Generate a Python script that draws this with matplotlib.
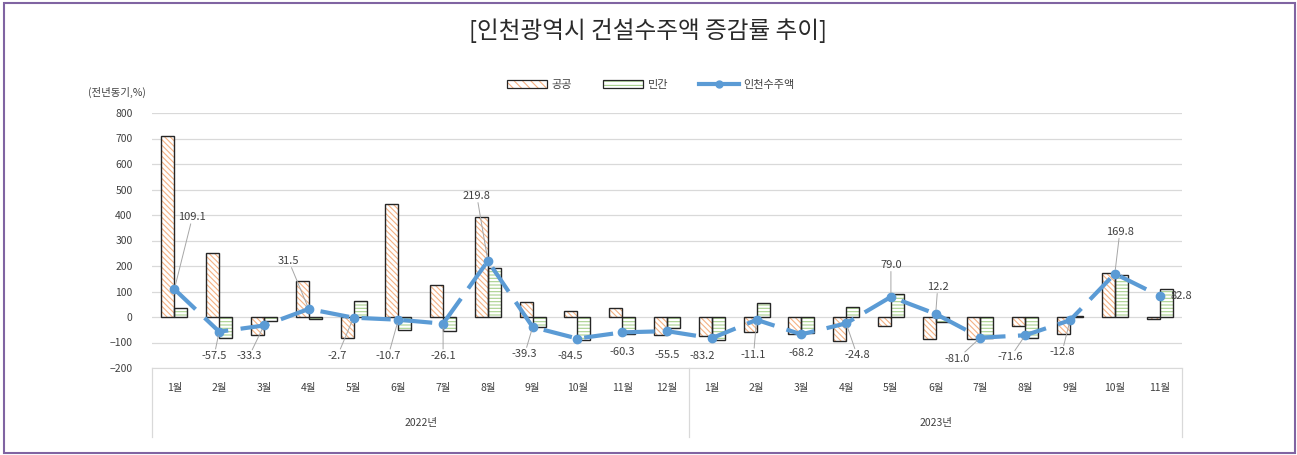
import matplotlib
matplotlib.use("Agg")
import matplotlib.pyplot as plt
from matplotlib.patches import Patch, Rectangle
from matplotlib.lines import Line2D
from matplotlib.legend_handler import HandlerTuple
import numpy as np

plt.rcParams['font.family'] = ['Noto Sans CJK KR', 'DejaVu Sans']
plt.rcParams['hatch.linewidth'] = 0.8

# ---- data ----
months = ["1월", "2월", "3월", "4월", "5월", "6월", "7월", "8월", "9월", "10월", "11월", "12월",
          "1월", "2월", "3월", "4월", "5월", "6월", "7월", "8월", "9월", "10월", "11월"]
years = ["2022년", "2023년"]
year_len = [12, 11]

public = [708, 252, -70, 143, -82, 443, 125, 392, 60, 22, 34, -72,
          -75, -58, -67, -94, -37, -86, -86, -34, -68, 171, -6]
private = [35, -83, -17, -9, 63, -50, -55, 191, -38, -90, -68, -44,
           -91, 55, -62, 40, 89, -18, -84, -82, 5, 166, 109]
total = [109.1, -57.5, -33.3, 31.5, -2.7, -10.7, -26.1, 219.8, -39.3, -84.5, -60.3, -55.5,
         -83.2, -11.1, -68.2, -24.8, 79.0, 12.2, -81.0, -71.6, -12.8, 169.8, 82.8]

# label offsets from the point, in pixels (dx, dy up-positive)
label_off = [(18, 72), (-5, -24), (-15, -31), (-20, 48), (-16, -38), (-10, -36), (0, -32),
             (-11, 65), (-8, -27), (-7, -17), (0, -20), (0, -24),
             (-10, -18), (-3, -35), (0, -19), (11, -32), (0, 32), (2, 27), (-23, -21),
             (-15, -22), (-8, -32), (5, 42), (22, 0)]

HATCH_PUB = "#F4B183"
HATCH_PRI = "#A9D18E"
LINE_C = "#5B9BD5"
EDGE = "#262626"

fig = plt.figure(figsize=(12.97, 4.55), dpi=100)
ax = fig.add_axes([152 / 1297, 1 - 368 / 455, (1182 - 152) / 1297, (368 - 113) / 455])

x = np.arange(len(months))
w = 0.29

# hatched fill, then dark outline on top
ax.bar(x - w / 2, public, w, color="white", edgecolor=HATCH_PUB, hatch="\\\\\\\\\\\\", lw=0, zorder=2)
ax.bar(x + w / 2, private, w, color="white", edgecolor=HATCH_PRI, hatch="-----", lw=0, zorder=2)
ax.bar(x - w / 2, public, w, color="none", edgecolor=EDGE, lw=1.0, zorder=3)
ax.bar(x + w / 2, private, w, color="none", edgecolor=EDGE, lw=1.0, zorder=3)

ax.plot(x, total, color=LINE_C, lw=3, linestyle=(0, (7, 3)), marker="o", ms=6,
        markerfacecolor=LINE_C, markeredgecolor=LINE_C, zorder=4)

for i, v in enumerate(total):
    dx, dy = label_off[i]
    dist = (dx ** 2 + dy ** 2) ** 0.5
    arrow = dict(arrowstyle="-", color="#A6A6A6", lw=0.7, shrinkA=0, shrinkB=3) if dist > 24 else None
    ax.annotate(f"{v:.1f}", xy=(i, v), xytext=(dx, dy), textcoords="offset pixels",
                ha="center", va="center", fontsize=8, color="#404040",
                bbox=dict(boxstyle="square,pad=0.15", fc="none", ec="none"),
                arrowprops=arrow, zorder=5)

ax.set_xlim(-0.5, len(months) - 0.5)
ax.set_ylim(-200, 800)
ax.set_yticks(range(-200, 801, 100))
ax.tick_params(axis="y", length=0, labelsize=7.5, labelcolor="#404040", pad=14)
ax.set_xticks(x)
ax.set_xticklabels(months)
ax.tick_params(axis="x", length=0, labelsize=7.5, labelcolor="#404040", pad=11)
ax.grid(axis="y", color="#D9D9D9", lw=0.9, zorder=0)
ax.set_axisbelow(True)
for s in ["top", "right", "left"]:
    ax.spines[s].set_visible(False)
ax.spines["bottom"].set_color("#D9D9D9")

# multi-level category axis: year labels and separators
trans = ax.get_xaxis_transform()
start = 0
bounds = [-0.5]
for yr, n in zip(years, year_len):
    ax.text(start + (n - 1) / 2, -0.215, yr, transform=trans, ha="center", va="center",
            fontsize=7.5, color="#404040")
    start += n
    bounds.append(start - 0.5)
for b in bounds:
    ax.plot([b, b], [0, -0.27], transform=trans, color="#D9D9D9", lw=0.9, clip_on=False)

fig.text(88 / 1297, 1 - 92 / 455, "(전년동기,%)", ha="left", va="center",
         fontsize=7.5, color="#404040")

# legend
h_pub = (Patch(facecolor="white", edgecolor=HATCH_PUB, hatch="\\\\\\\\", lw=0),
         Patch(facecolor="none", edgecolor=EDGE, lw=0.9))
h_pri = (Patch(facecolor="white", edgecolor=HATCH_PRI, hatch="----", lw=0),
         Patch(facecolor="none", edgecolor=EDGE, lw=0.9))
h_tot = Line2D([], [], color=LINE_C, lw=3, marker="o", ms=5)
fig.legend([h_pub, h_pri, h_tot], ["공공", "민간", "인천수주액"],
           handler_map={tuple: HandlerTuple(ndivide=1, pad=0)},
           loc="center", bbox_to_anchor=(651 / 1297, 1 - 85 / 455), ncol=3, frameon=False,
           fontsize=8, handlelength=3.6, handleheight=0.7, columnspacing=2.8,
           handletextpad=0.4, labelcolor="#404040")

fig.text(648 / 1297, 1 - 31 / 455, "[인천광역시 건설수주액 증감률 추이]", ha="center", va="center",
         fontsize=17, color="#2a2a2a")

fig.patches.append(Rectangle((4 / 1297, 2 / 455), 1291 / 1297, 450 / 455, transform=fig.transFigure,
                             fill=False, edgecolor="#8064A2", lw=1.5))

fig.savefig("out.png", dpi=100)
